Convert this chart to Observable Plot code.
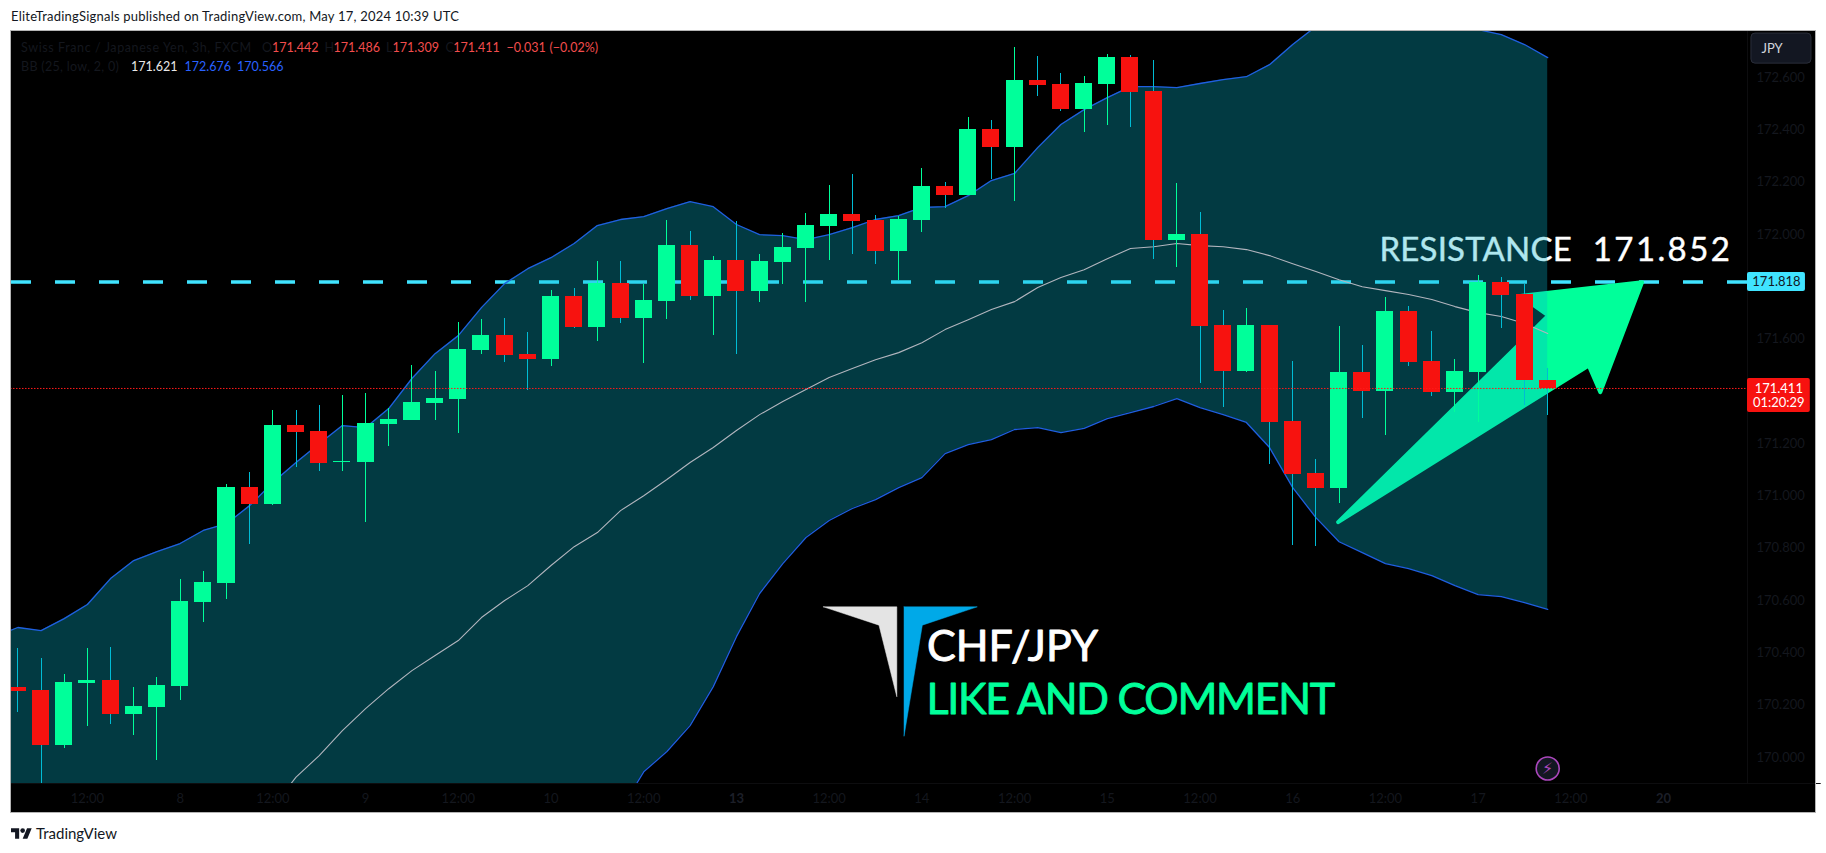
<!DOCTYPE html>
<html>
<head>
<meta charset="utf-8">
<script src="https://cdn.jsdelivr.net/npm/d3@7"></script>
<script src="https://cdn.jsdelivr.net/npm/@observablehq/plot@0.6"></script>
<style>
html,body{margin:0;padding:0;background:#fff;width:1826px;height:853px;overflow:hidden}
#head{height:30px;padding-left:11px;font:13px/32px Lato,sans-serif;color:#131722;letter-spacing:.22px;white-space:pre}
#chart svg{display:block;margin-left:10px;outline:1px solid #b4b4b4;outline-offset:-1px}
#foot{display:flex;align-items:center;height:40px;padding-left:11px;font:15px Lato,sans-serif;color:#131722}
#foot svg{margin-right:4px}
</style>
</head>
<body>
<div id="head">EliteTradingSignals published on TradingView.com, May 17, 2024 10:39 UTC</div>
<div id="chart"></div>
<div id="foot"><svg width="21" height="11" viewBox="0 4 36 18"><path fill="#131722" d="M14 22H7V11H0V4h14v18zM28 22h-8l7.5-18h8L28 22z"/><circle fill="#131722" cx="20" cy="8" r="4"/></svg>TradingView</div>
<script>
const opens=[170.267,170.256,170.046,170.283,170.294,170.164,170.191,170.271,170.592,170.665,171.032,170.967,171.269,171.246,171.128,171.128,171.273,171.288,171.353,171.368,171.556,171.613,171.541,171.521,171.762,171.644,171.812,171.678,171.743,171.957,171.762,171.900,171.781,171.892,171.946,172.030,172.076,172.053,171.934,172.053,172.183,172.148,172.401,172.332,172.588,172.573,172.477,172.573,172.676,172.546,171.976,171.999,171.651,171.475,171.651,171.284,171.086,171.028,171.472,171.399,171.705,171.514,171.395,171.472,171.816,171.770,171.442];
const highs=[170.416,170.378,170.317,170.416,170.420,170.267,170.306,170.680,170.711,171.043,171.089,171.326,171.326,171.346,171.384,171.391,171.334,171.498,171.475,171.663,171.674,171.678,171.625,171.785,171.793,171.896,171.896,171.808,172.053,172.011,171.915,172.049,171.923,172.003,172.080,172.187,172.229,172.072,172.068,172.252,172.198,172.447,172.435,172.714,172.680,172.615,172.603,172.688,172.684,172.665,172.194,172.083,171.709,171.716,171.651,171.514,171.139,171.648,171.575,171.758,171.724,171.628,171.521,171.843,171.835,171.808,171.486];
const lows=[170.172,169.85,170.034,170.118,170.126,170.084,169.988,170.218,170.516,170.604,170.814,170.963,171.108,171.093,171.093,170.898,171.189,171.288,171.288,171.238,171.541,171.510,171.403,171.495,171.640,171.590,171.659,171.506,171.674,171.747,171.613,171.541,171.739,171.808,171.739,171.900,171.923,171.885,171.823,172.007,172.099,172.148,172.210,172.125,172.527,172.470,172.389,172.416,172.408,171.904,171.873,171.430,171.338,171.472,171.120,170.810,170.806,170.971,171.296,171.231,171.495,171.380,171.319,171.281,171.640,171.346,171.309];
const closes=[170.252,170.046,170.286,170.294,170.164,170.195,170.275,170.596,170.669,171.032,170.967,171.269,171.242,171.124,171.131,171.277,171.292,171.357,171.372,171.560,171.613,171.537,171.521,171.762,171.644,171.812,171.678,171.747,171.957,171.762,171.900,171.781,171.896,171.950,172.034,172.076,172.049,171.934,172.057,172.183,172.148,172.401,172.332,172.588,172.569,172.477,172.577,172.676,172.542,171.976,171.999,171.648,171.475,171.651,171.281,171.082,171.028,171.472,171.399,171.705,171.510,171.395,171.475,171.816,171.766,171.441,171.411];

const uppers=[170.462,170.497,170.485,170.531,170.585,170.684,170.753,170.787,170.818,170.868,170.894,170.963,171.051,171.128,171.200,171.269,171.261,171.334,171.449,171.544,171.613,171.720,171.812,171.869,171.911,171.965,172.034,172.057,172.068,172.099,172.125,172.106,172.038,171.999,171.995,171.980,171.999,172.026,172.057,172.072,172.103,172.106,172.148,172.206,172.233,172.332,172.420,172.477,172.523,172.565,172.565,172.561,172.577,172.592,172.603,172.649,172.726,172.795,172.818,172.837,172.848,172.848,172.840,172.818,172.783,172.764,172.726,172.676];
const middles=[169.17,169.20,169.24,169.28,169.32,169.37,169.43,169.49,169.55,169.60,169.66,169.73,169.81,169.925,170.007,170.103,170.187,170.263,170.332,170.390,170.447,170.535,170.600,170.657,170.734,170.806,170.860,170.944,171.001,171.063,171.128,171.185,171.250,171.311,171.361,171.407,171.453,171.487,171.521,171.548,171.586,171.636,171.674,171.713,171.743,171.797,171.835,171.865,171.907,171.946,171.953,171.965,171.957,171.953,171.942,171.919,171.888,171.858,171.827,171.800,171.785,171.770,171.751,171.724,171.701,171.686,171.659,171.621];
const lowers=[167.9,167.9,168.0,168.0,168.1,168.1,168.2,168.2,168.3,168.3,168.4,168.45,168.5,168.7,168.81,168.94,169.11,169.19,169.21,169.24,169.28,169.35,169.39,169.44,169.56,169.64,169.68,169.80,169.945,170.023,170.122,170.271,170.462,170.627,170.741,170.841,170.906,170.952,170.986,171.032,171.070,171.162,171.196,171.215,171.254,171.261,171.242,171.258,171.296,171.319,171.342,171.372,171.338,171.311,171.281,171.185,171.032,170.917,170.825,170.783,170.741,170.722,170.695,170.657,170.623,170.615,170.592,170.566];

const resistanceLevel=171.818, lastPrice=171.411;
const priceTicks=[170,170.2,170.4,170.6,170.8,171,171.2,171.6,172,172.2,172.4,172.6];
const timeTicks=[3,7,11,15,19,23,27,35,39,43,47,51,55,59,63,67];
const timeLabels=["12:00","8","12:00","9","12:00","10","12:00","12:00","14","12:00","15","12:00","16","12:00","17","12:00"];
const boldTicks=[31,71];
const boldLabels=["13","20"];

const arrowIdx=[56.96,66.03,64.82,70.07,68.27,67.77,56.96];
const arrowPrice=[170.900,171.690,171.765,171.817,171.397,171.499,170.900];
const logoGrayIdx=[34.75,37.92,37.92,37.15,34.75];
const logoGrayPrice=[170.576,170.576,170.232,170.506,170.576];
const logoBlueIdx=[38.23,41.39,39.02,38.23,38.23];
const logoBluePrice=[170.576,170.576,170.506,170.081,170.576];

const candleIdx=opens.map((_,i)=>i);
const bandIdx=uppers.map((_,i)=>i-1);
const isUp=i=>closes[i]>=opens[i];
const upIdx=candleIdx.filter(isUp), downIdx=candleIdx.filter(i=>!isUp(i));
const GREEN="#00ff9a", RED="#f7120f", CYAN="#00bcd4", FONT="Lato,sans-serif", MUTED="#14171e";
const HW=0.367;

const wicks=(idx,stroke)=>Plot.ruleX(idx,{x:i=>i,y1:i=>lows[i],y2:i=>highs[i],stroke,strokeWidth:1,clip:true,shapeRendering:"crispEdges"});
const bodies=(idx,fill)=>Plot.rect(idx,{x1:i=>i-HW,x2:i=>i+HW,y1:i=>opens[i],y2:i=>closes[i],fill,clip:true,shapeRendering:"crispEdges"});
const shape=(xs,ys,fill,extra={})=>Plot.line(xs.map((x,k)=>[x,ys[k]]),{x:"0",y:"1",fill,stroke:fill,strokeWidth:0.5,strokeLinejoin:"round",...extra});
const px=(t,x,y,fill,extra={})=>Plot.text([t],{frameAnchor:"top-left",dx:x-10,dy:y-30,textAnchor:"start",lineAnchor:"middle",fill,fontSize:12.5,fontFamily:FONT,...extra});

const plot=Plot.plot({
  width:1806,height:783,
  marginLeft:0,marginRight:69,marginTop:0,marginBottom:30,
  style:{background:"#000",overflow:"visible",fontFamily:FONT},
  x:{domain:[-0.319,74.62],axis:null},
  y:{domain:[169.9005,172.7797],axis:null},
  marks:[
    Plot.ruleY([resistanceLevel],{stroke:"#40e4ff",strokeWidth:3.6,strokeDasharray:"20 24",strokeDashoffset:-1}),
    Plot.text(["RESISTANCE  171.852"],{x:[58.74],y:[171.937],fill:"#fff",stroke:"#fff",strokeWidth:.4,fontSize:33,fontFamily:FONT,textAnchor:"start"}),
    shape(arrowIdx,arrowPrice,GREEN,{stroke:GREEN,strokeWidth:4}),
    shape(logoGrayIdx,logoGrayPrice,"#e4e4e4"),
    shape(logoBlueIdx,logoBluePrice,"#00a9e8"),
    Plot.text(["CHF/JPY"],{x:[39.22],y:[170.4225],fill:"#fff",stroke:"#fff",strokeWidth:.9,fontSize:43,fontFamily:FONT,textAnchor:"start"}),
    Plot.text(["LIKE AND COMMENT"],{x:[39.2],y:[170.2197],fill:GREEN,stroke:GREEN,strokeWidth:.9,fontSize:43,fontFamily:FONT,textAnchor:"start"}),

    Plot.areaY(bandIdx,{x:bandIdx,y1:lowers,y2:uppers,fill:"#06b5ce",fillOpacity:.32,clip:true}),
    Plot.lineY(middles,{x:bandIdx,stroke:"#b2b5be",strokeWidth:1.1,clip:true}),
    Plot.lineY(uppers,{x:bandIdx,stroke:"#1f5fe0",strokeWidth:1.3,clip:true}),
    Plot.lineY(lowers,{x:bandIdx,stroke:"#1f5fe0",strokeWidth:1.3,clip:true}),

    wicks(downIdx,CYAN),
    wicks(upIdx,GREEN),
    bodies(downIdx,RED),
    bodies(upIdx,GREEN),
    Plot.ruleY([lastPrice],{stroke:"#ff1a1a",strokeWidth:1,strokeDasharray:"1.5 1.5"}),

    Plot.ruleX([74.62],{stroke:"#0d0d0f",strokeWidth:1}),
    Plot.ruleY([169.9005],{x1:-0.319,x2:77.8,stroke:"#0d0d0f",strokeWidth:1}),
    Plot.axisY(priceTicks,{anchor:"right",tickSize:0,tickPadding:9,tickFormat:d=>d.toFixed(3),fill:MUTED,fontSize:13,fontFamily:FONT,label:null}),
    Plot.axisX(timeTicks,{anchor:"bottom",tickSize:0,tickPadding:10,tickFormat:d=>timeLabels[timeTicks.indexOf(d)],fill:MUTED,fontSize:13,fontFamily:FONT,label:null}),
    Plot.axisX(boldTicks,{anchor:"bottom",tickSize:0,tickPadding:10,tickFormat:d=>boldLabels[boldTicks.indexOf(d)],fill:"#1c1f28",fontSize:13,fontWeight:"bold",fontFamily:FONT,label:null}),

    Plot.rect([0],{x1:74.62,x2:77.12,y1:[171.782],y2:[171.854],fill:"#40e4ff",rx:2}),
    Plot.text(["171.818"],{x:[75.87],y:[resistanceLevel],fill:"#131722",fontSize:13,fontFamily:FONT}),
    Plot.rect([0],{x1:74.62,x2:77.33,y1:[171.319],y2:[171.449],fill:RED,rx:2}),
    Plot.text(["171.411"],{x:[75.97],y:[lastPrice],fill:"#fff",fontSize:13,fontFamily:FONT}),
    Plot.text(["01:20:29"],{x:[75.97],y:[171.357],fill:"#fff",fontSize:13,fontFamily:FONT}),
    Plot.rect([0],{x1:74.79,x2:77.38,y1:[172.653],y2:[172.768],fill:"#131722",stroke:"#2a2e39",rx:4}),
    Plot.text(["JPY"],{x:[75.22],y:[172.711],fill:"#d1d4dc",fontSize:13,fontFamily:FONT,textAnchor:"start"}),
    Plot.dot([0],{x:[66],y:[169.958],r:11.5,fill:"#131722",stroke:"#ab47bc",strokeWidth:1.6}),
    Plot.text(["\u26A1\uFE0E"],{x:[66],y:[169.958],fill:"#ab47bc",fontSize:16,fontFamily:"DejaVu Sans"}),

    px("Swiss Franc / Japanese Yen, 3h, FXCM",20.6,47,MUTED),
    px("O",261.5,47,MUTED),px("171.442",271.6,47,"#f24d4d"),
    px("H",324,47,MUTED),px("171.486",333,47,"#f24d4d"),
    px("L",385.5,47,MUTED),px("171.309",392,47,"#f24d4d"),
    px("C",445,47,MUTED),px("171.411",452.7,47,"#f24d4d"),
    px("\u22120.031",506,47,"#f24d4d"),px("(\u22120.02%)",549,47,"#f24d4d"),
    px("BB (25, low, 2, 0)",20.6,66,MUTED),
    px("171.621",130.5,66,"#e8e8e8"),
    px("172.676",184,66,"#2962ff"),
    px("170.566",236.5,66,"#2962ff")
  ]
});
plot.querySelectorAll("text").forEach(t=>{
  const s=t.textContent;
  if(s.startsWith("RESISTANCE")){
    t.style.whiteSpace="pre";
    const parts=["RESISTANCE  ","171.852"], sp=["0.2px","2.4px"], shift=[0,3.5];
    t.textContent="";
    parts.forEach((p,k)=>{
      const ts=document.createElementNS("http://www.w3.org/2000/svg","tspan");
      ts.textContent=p; ts.style.letterSpacing=sp[k]; ts.setAttribute("dx",shift[k]); t.appendChild(ts);
    });
  }
  if(s==="LIKE AND COMMENT") t.style.letterSpacing="-1.3px";
  if(s.startsWith("Swiss Franc")) t.style.letterSpacing=".6px";
  if(s.startsWith("BB (")) t.style.letterSpacing=".3px";
});
document.getElementById("chart").appendChild(plot);
</script>
</body>
</html>
